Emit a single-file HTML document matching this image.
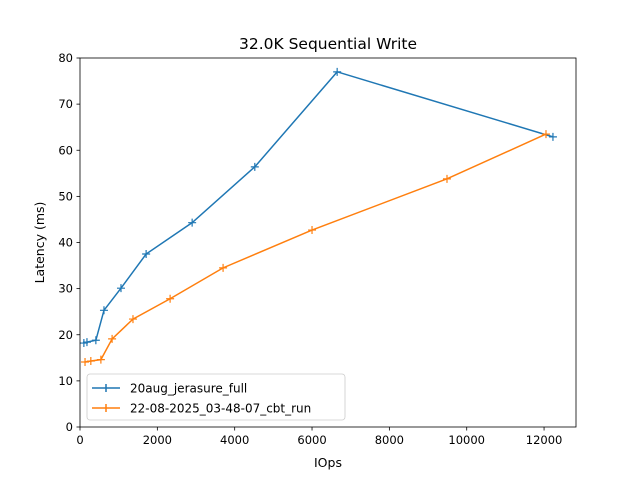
<!DOCTYPE html>
<html><head><meta charset="utf-8"><style>
body{margin:0;background:#fff}
svg text{font-family:"DejaVu Sans","Liberation Sans",sans-serif;fill:#000}
</style></head><body>
<svg id="chart" width="640" height="480" xmlns="http://www.w3.org/2000/svg">
<rect width="640" height="480" fill="#fff"/>
<text x="328" y="49" font-size="15.5" text-anchor="middle">32.0K  Sequential Write</text>
<g id="plot"></g>
<text x="328" y="467" font-size="12.5" text-anchor="middle">IOps</text>
<text transform="translate(44,242.5) rotate(-90)" font-size="12.5" text-anchor="middle">Latency (ms)</text>
</svg>
<script>
const xTicks=[0,2000,4000,6000,8000,10000,12000];
const yTicks=[0,10,20,30,40,50,60,70,80];
const seriesNames=["20aug_jerasure_full","22-08-2025_03-48-07_cbt_run"];
const blueX=[100,180,410,620,1060,1710,2900,4520,6650,12230];
const blueY=[18.2,18.4,18.8,25.3,30.1,37.5,44.3,56.4,77.0,62.9];
const orangeX=[130,280,540,830,1370,2330,3700,6000,9490,12050];
const orangeY=[14.1,14.3,14.6,19.1,23.4,27.8,34.5,42.7,53.8,63.5];
const L=80,R=576,T=58,B=427,XMAX=12826,YMAX=80;
const sx=v=>L+v/XMAX*(R-L), sy=v=>B-v/YMAX*(B-T);
const g=document.getElementById('plot');
const NS='http://www.w3.org/2000/svg';
function mk(t,a){const e=document.createElementNS(NS,t);for(const k in a)e.setAttribute(k,a[k]);g.appendChild(e);return e;}
xTicks.forEach(v=>{
 const l=mk('line',{x1:sx(v),x2:sx(v),y1:B,y2:B+3.5,stroke:'#000','stroke-width':0.8});
 
 
 const t=mk('text',{x:sx(v),y:B+17,'font-size':11.5,'text-anchor':'middle'});t.textContent=v;
 
 
});
yTicks.forEach(v=>{
 const l=mk('line',{x1:L-3.5,x2:L,y1:sy(v),y2:sy(v),stroke:'#000','stroke-width':0.8});
 
 
 const t=mk('text',{x:L-7,y:sy(v)+4,'font-size':11.5,'text-anchor':'end'});t.textContent=v;
 
 
});
function series(xs,ys,c,name){
 const p=mk('polyline',{points:xs.map((x,i)=>sx(x)+','+sy(ys[i])).join(' '),fill:'none',stroke:c,'stroke-width':1.5});
 
 
 xs.forEach((x,i)=>{
  const m=mk('path',{d:`M${sx(x)-4},${sy(ys[i])}h8M${sx(x)},${sy(ys[i])-4}v8`,stroke:c,'stroke-width':1.2});
  
  
 });
}
series(blueX,blueY,'#1f77b4','series-blue');
series(orangeX,orangeY,'#ff7f0e','series-orange');
const fr=mk('rect',{x:L,y:T,width:R-L,height:B-T,fill:'none',stroke:'#000','stroke-width':0.8});


const lg=mk('rect',{x:87,y:374,width:258,height:46,fill:'#fff','fill-opacity':0.8,stroke:'#ccc','stroke-width':0.8,rx:3});


const cols=['#1f77b4','#ff7f0e'];
seriesNames.forEach((n,i)=>{
 const y=388+i*20;
 const l=mk('path',{d:`M92,${y}h28M106,${y-4}v8`,stroke:cols[i],'stroke-width':1.5});
 
 
 const t=mk('text',{x:130,y:y+4.5,'font-size':12});t.textContent=n;
 
 
});
</script>
</body></html>
